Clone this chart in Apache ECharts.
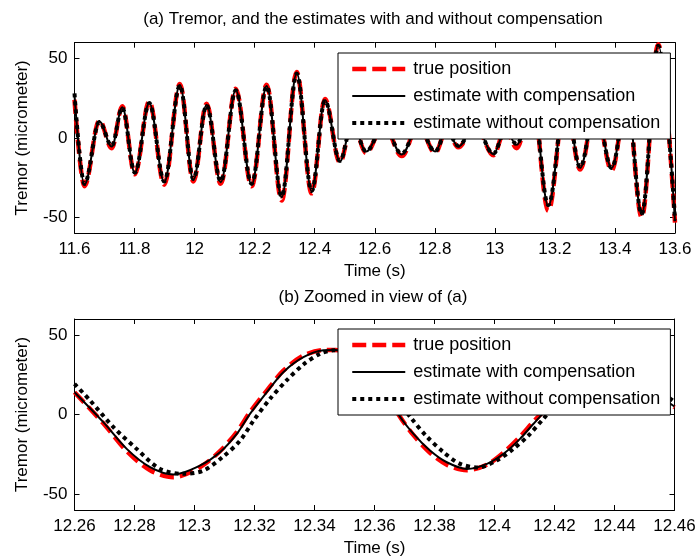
<!DOCTYPE html>
<html>
<head>
<meta charset="utf-8">
<script src="https://cdn.jsdelivr.net/npm/echarts@6/dist/echarts.min.js"></script>
<style>
  html, body { margin: 0; padding: 0; background: #fff; }
  #chart { width: 698px; height: 556px; }
</style>
</head>
<body>
<div id="chart"></div>
<script>
// (a) full view: read at peaks / troughs (hidden ones behind the legend estimated)
const topTime = [11.600, 11.633, 11.683, 11.724, 11.759, 11.801, 11.849, 11.899, 11.951, 11.996,
  12.040, 12.087, 12.137, 12.190, 12.240, 12.290, 12.340, 12.390, 12.434, 12.484,
  12.525, 12.571, 12.630, 12.690, 12.745, 12.801, 12.840, 12.878, 12.935, 12.995,
  13.035, 13.073, 13.125, 13.178, 13.235, 13.284, 13.335, 13.389, 13.440, 13.489,
  13.544, 13.600];
const topTrue = [24, -30.5, 11, -6.5, 20, -23, 23, -29.5, 34, -27.5,
  21.5, -29, 31, -30.5, 33.5, -39.5, 41.5, -35, 24.5, -15.5,
  10.5, -9.5, 8.5, -11.5, 8.5, -9.5, 5.5, -6, 8.5, -11,
  5.5, -6.5, 25.5, -46, 25.5, -20, 20.5, -20.5, 25.5, -50,
  59, -53.5];
const topComp = [27, -29.6, 10.3, -5.5, 19.3, -22.2, 22.2, -28, 33.3, -26.4,
  20.8, -28, 30.2, -29.6, 32.7, -37.5, 40.7, -33.8, 23.9, -14.9,
  10, -8.6, 8, -10.5, 8, -8.6, 5, -5.5, 8, -10.2,
  5, -4.4, 25, -43, 25, -19, 20, -19, 25, -48.4,
  58.5, -52.6];
const topNoComp = [28, -29, 10, -5, 19, -22, 22, -27.5, 33, -26,
  20.5, -27.5, 30, -29, 32.5, -37, 40.5, -33.5, 23.5, -14.5,
  9.5, -8.5, 7.5, -10, 7.5, -8.5, 4.5, -5, 7.5, -10,
  4.5, -4, 24.5, -42.5, 24.5, -18.5, 19.5, -19, 24.5, -48,
  58, -52];

// (b) zoomed view
const zoomTime = [12.260, 12.2696, 12.2774, 12.2852, 12.293, 12.3019, 12.3085, 12.3141, 12.3185, 12.3241,
  12.3296, 12.3363, 12.343, 12.347, 12.353, 12.359, 12.364, 12.368, 12.373, 12.3785,
  12.3841, 12.3908, 12.3975, 12.403, 12.4085, 12.413, 12.418, 12.425, 12.436, 12.447,
  12.455, 12.460];
const zoomTrue = [14, -5.5, -23, -35, -39.4, -33, -23, -11, 1.5, 15,
  27.5, 37, 40.5, 40.5, 36, 26, 14, 0, -13, -24,
  -31.5, -35, -31.5, -24, -14, -4.5, 5, 15.5, 24, 18,
  10, 4.5];
const zoomComp = [14, -4.8, -21.6, -33.1, -37.7, -32, -23.7, -12.2, 0.4, 14,
  26.6, 36, 40.3, 40.5, 36, 26, 14, 0, -12.2, -22.6,
  -30, -34.2, -31, -24.7, -15.3, -5.8, 4, 15, 24, 19,
  11, 5];
const zoomTimeNoComp = [12.260, 12.2652, 12.273, 12.2807, 12.2885, 12.2963, 12.303, 12.3096, 12.3152, 12.3197,
  12.3252, 12.3307, 12.3363, 12.3419, 12.3463, 12.350, 12.356, 12.362, 12.367, 12.3724,
  12.3774, 12.383, 12.3885, 12.3945, 12.4007, 12.4063, 12.4113, 12.4163, 12.421, 12.428,
  12.439, 12.450, 12.457, 12.460];
const zoomNoComp = [19.3, 8.8, -8, -21.6, -34.2, -37.3, -35.2, -26.4, -16.4, -3.8,
  9.9, 21.4, 31.4, 38.2, 40.3, 40.5, 35, 24, 11, -2.7,
  -13.8, -23.7, -31, -33.3, -28.9, -21.6, -13.2, -2.7, 7, 17,
  24, 19, 12, 8];

const yTicks = [-50, 0, 50];
const names = ['true position', 'estimate with compensation', 'estimate without compensation'];

const FONT = '"Liberation Sans", Arial, sans-serif';
const pair = (ts, vs) => ts.map((t, i) => [t, vs[i]]);

const styles = [
  { color: '#ff0000', width: 4.5, type: [14, 6] },
  { color: '#000000', width: 2, type: 'solid' },
  { color: '#000000', width: 4, type: [4, 4] },
];

function xAx(gridIndex, min, max, interval, top) {
  return {
    type: 'value', gridIndex, min, max, interval,
    position: top ? 'top' : 'bottom',
    axisLine: { show: true, onZero: false, lineStyle: { color: '#000', width: 1 } },
    axisTick: { show: true, inside: true, length: 5, lineStyle: { color: '#000' } },
    axisLabel: {
      show: !top, margin: 8, color: '#000', fontSize: 17, fontFamily: FONT,
      showMinLabel: true, showMaxLabel: true,
    },
    splitLine: { show: false },
    name: top ? '' : 'Time (s)',
    nameLocation: 'middle', nameGap: 30,
    nameTextStyle: { color: '#000', fontSize: 17, fontFamily: FONT },
  };
}

function yAx(gridIndex, right) {
  return {
    type: 'value', gridIndex, min: -60, max: 60,
    position: right ? 'right' : 'left',
    axisLine: { show: true, lineStyle: { color: '#000', width: 1 } },
    axisTick: { show: true, inside: true, length: 5, customValues: yTicks, lineStyle: { color: '#000' } },
    axisLabel: { show: !right, customValues: yTicks, margin: 7, color: '#000', fontSize: 17, fontFamily: FONT },
    splitLine: { show: false },
    name: right ? '' : 'Tremor (micrometer)',
    nameLocation: 'middle', nameRotate: 90, nameGap: 44,
    nameTextStyle: { color: '#000', fontSize: 17, fontFamily: FONT },
  };
}

function lineSeries(name, data, xi, yi, st, monotone) {
  return {
    name, type: 'line', data, xAxisIndex: xi, yAxisIndex: yi,
    showSymbol: false, symbol: 'none',
    smooth: monotone ? 0.36 : 0.3,
    smoothMonotone: monotone ? 'x' : undefined,
    lineStyle: { color: st.color, width: st.width, type: st.type, cap: 'butt' },
    itemStyle: { color: st.color },
    emphasis: { disabled: true },
    animation: false,
  };
}

function legendAt(top) {
  return {
    data: names, orient: 'vertical', left: 338, top,
    padding: [7, 10, 7, 12], itemGap: 9, itemWidth: 53, itemHeight: 14,
    backgroundColor: '#fff', borderColor: '#000', borderWidth: 1, borderRadius: 0,
    itemStyle: { opacity: 0 },
    lineStyle: { width: 'inherit', type: 'inherit', color: 'inherit', cap: 'butt' },
    textStyle: { color: '#000', fontSize: 18, fontFamily: FONT, padding: [0, 0, 0, 3] },
    selectedMode: false,
  };
}

const chart = echarts.init(document.getElementById('chart'), null, { renderer: 'canvas' });

chart.setOption({
  animation: false,
  backgroundColor: '#fff',
  title: [
    { text: '(a) Tremor, and the estimates with and without compensation', left: 373, top: 11, textAlign: 'center', padding: 0,
      textStyle: { color: '#000', fontSize: 17, fontWeight: 'normal', fontFamily: FONT } },
    { text: '(b) Zoomed in view of (a)', left: 373, top: 289, textAlign: 'center', padding: 0,
      textStyle: { color: '#000', fontSize: 17, fontWeight: 'normal', fontFamily: FONT } },
  ],
  legend: [legendAt(53), legendAt(329)],
  grid: [
    { left: 74.5, top: 42.7, width: 600.5, height: 190.3, containLabel: false, outerBoundsMode: 'none' },
    { left: 74.5, top: 319, width: 600, height: 191, containLabel: false, outerBoundsMode: 'none' },
  ],
  xAxis: [
    xAx(0, 11.6, 13.6, 0.2, false),
    xAx(0, 11.6, 13.6, 0.2, true),
    xAx(1, 12.26, 12.46, 0.02, false),
    xAx(1, 12.26, 12.46, 0.02, true),
  ],
  yAxis: [yAx(0, false), yAx(0, true), yAx(1, false), yAx(1, true)],
  series: [
    lineSeries(names[0], pair(topTime, topTrue), 0, 0, styles[0], true),
    lineSeries(names[1], pair(topTime, topComp), 0, 0, styles[1], true),
    lineSeries(names[2], pair(topTime, topNoComp), 0, 0, styles[2], true),
    lineSeries(names[0], pair(zoomTime, zoomTrue), 2, 2, styles[0], false),
    lineSeries(names[1], pair(zoomTime, zoomComp), 2, 2, styles[1], false),
    lineSeries(names[2], pair(zoomTimeNoComp, zoomNoComp), 2, 2, styles[2], false),
  ],
});
</script>
</body>
</html>
